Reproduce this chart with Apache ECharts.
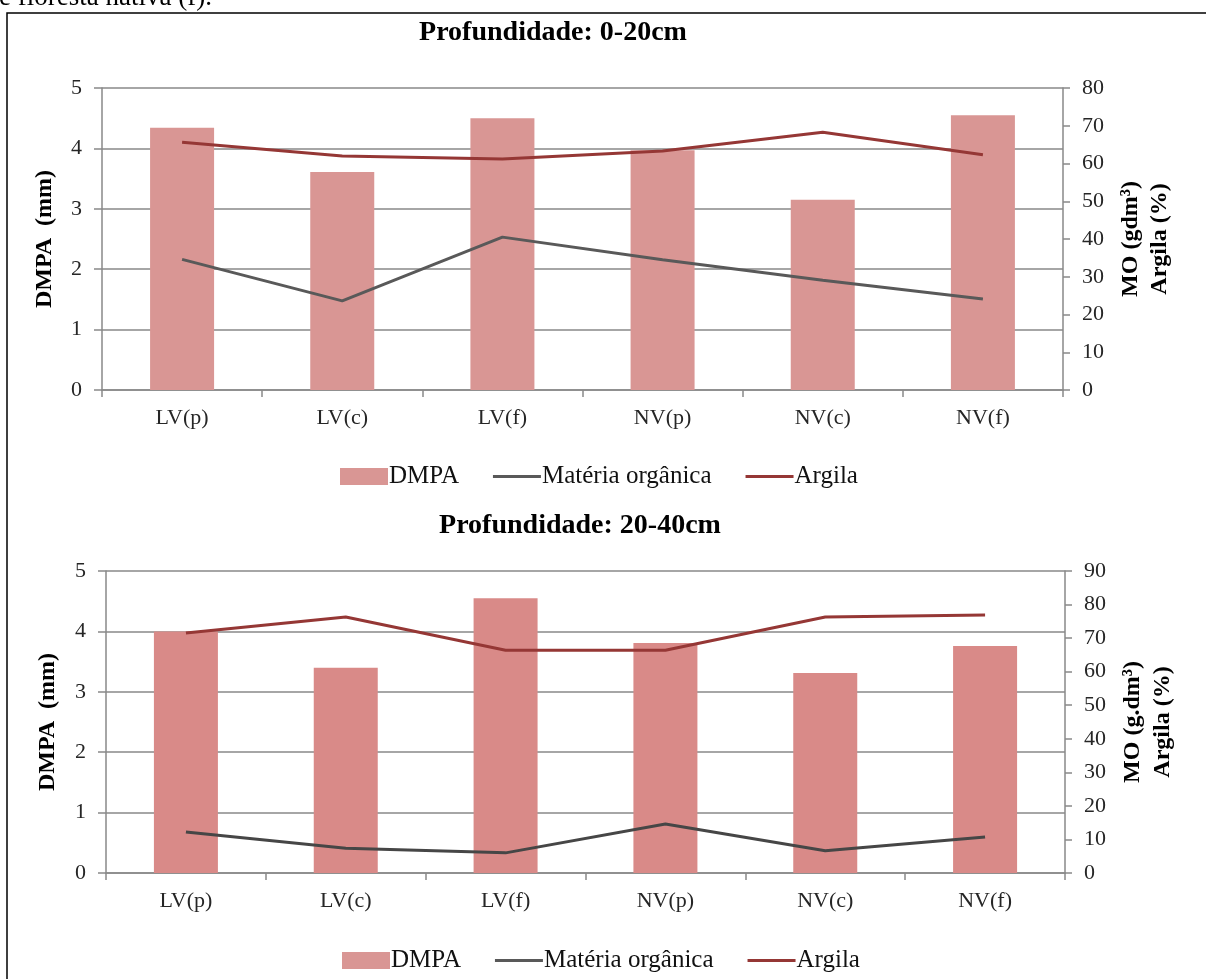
<!DOCTYPE html>
<html>
<head>
<meta charset="utf-8">
<style>
  html, body { margin: 0; padding: 0; background: #fff; }
  #chart { width: 1206px; height: 979px; }
</style>
<script src="https://cdn.jsdelivr.net/npm/echarts@6/dist/echarts.min.js"></script>
</head>
<body>
<div id="chart"></div>
<script>
// Soil classes and sampling sites
const categories = ['LV(p)', 'LV(c)', 'LV(f)', 'NV(p)', 'NV(c)', 'NV(f)'];

// Depth 0-20 cm
const dmpa0_20 = [4.34, 3.61, 4.50, 3.97, 3.15, 4.55];
const mo0_20 = [34.6, 23.6, 40.5, 34.5, 29.1, 24.1];
const argila0_20 = [65.6, 62.0, 61.2, 63.3, 68.3, 62.3];

// Depth 20-40 cm
const dmpa20_40 = [4.0, 3.4, 4.55, 3.81, 3.31, 3.76];
const mo20_40 = [12.2, 7.4, 6.0, 14.6, 6.6, 10.7];
const argila20_40 = [71.5, 76.3, 66.4, 66.4, 76.3, 76.9];

const SERIF = '"Liberation Serif", "Times New Roman", serif';
const AXIS_GRAY = '#898989';
const LABEL = '#262626';
// thin horizontal bar used as the legend key of the line series
const LINE_KEY = 'path://M0,0 L50,0 L50,3.2 L0,3.2 Z';

const chart = echarts.init(document.getElementById('chart'), null, { renderer: 'canvas' });

function xAxisFor(gridIndex) {
  return {
    type: 'category', gridIndex, data: categories,
    axisLine: { lineStyle: { color: AXIS_GRAY, width: 1.5 } },
    axisTick: { show: true, alignWithLabel: false, length: 7, lineStyle: { color: AXIS_GRAY, width: 1.5 } },
    axisLabel: { fontFamily: SERIF, fontSize: 22, color: LABEL, margin: 17 }
  };
}
function leftAxisFor(gridIndex) {
  return {
    type: 'value', gridIndex, min: 0, max: 5, interval: 1, position: 'left',
    axisLine: { show: true, lineStyle: { color: AXIS_GRAY, width: 1.5 } },
    axisTick: { show: true, length: 8, lineStyle: { color: AXIS_GRAY, width: 1.5 } },
    splitLine: { show: true, lineStyle: { color: AXIS_GRAY, width: 1.5 } },
    axisLabel: { fontFamily: SERIF, fontSize: 22, color: LABEL, margin: 20 }
  };
}
function rightAxisFor(gridIndex, max) {
  return {
    type: 'value', gridIndex, min: 0, max, interval: 10, position: 'right',
    axisLine: { show: true, lineStyle: { color: AXIS_GRAY, width: 1.5 } },
    axisTick: { show: true, length: 7, lineStyle: { color: AXIS_GRAY, width: 1.5 } },
    splitLine: { show: false },
    axisLabel: { fontFamily: SERIF, fontSize: 22, color: LABEL, margin: 19 }
  };
}
function seriesFor(idx, dmpa, mo, argila, barColor, moColor) {
  return [
    { name: 'DMPA', type: 'bar', xAxisIndex: idx, yAxisIndex: idx * 2, data: dmpa,
      barWidth: 64, itemStyle: { color: barColor }, z: 2 },
    { name: 'Matéria orgânica', type: 'line', xAxisIndex: idx, yAxisIndex: idx * 2 + 1, data: mo,
      symbol: 'none', lineStyle: { color: moColor, width: 3 }, itemStyle: { color: moColor }, z: 3 },
    { name: 'Argila', type: 'line', xAxisIndex: idx, yAxisIndex: idx * 2 + 1, data: argila,
      symbol: 'none', lineStyle: { color: '#953735', width: 3 }, itemStyle: { color: '#953735' }, z: 3 }
  ];
}
function legendFor(top, left) {
  return {
    top, left, itemWidth: 48, itemHeight: 17, itemGap: 34,
    textStyle: { fontFamily: SERIF, fontSize: 25, color: '#111', padding: [0, 0, 0, -4] },
    data: [
      { name: 'DMPA', icon: 'rect' },
      { name: 'Matéria orgânica', icon: LINE_KEY, symbolKeepAspect: true },
      { name: 'Argila', icon: LINE_KEY, symbolKeepAspect: true }
    ],
    selectedMode: false
  };
}
function vText(x, y, text) {
  return {
    type: 'text', x, y, rotation: Math.PI / 2,
    style: { text, fill: '#000', font: 'bold 24px ' + SERIF, align: 'center', verticalAlign: 'middle' }
  };
}
function hText(x, y, text, font) {
  return {
    type: 'text', x, y,
    style: { text, fill: '#000', font, align: 'center', verticalAlign: 'middle' }
  };
}

chart.setOption({
  animation: false,
  backgroundColor: '#fff',
  grid: [
    { left: 102, right: 143, top: 88, height: 302 },
    { left: 106, right: 141, top: 571, height: 302 }
  ],
  xAxis: [xAxisFor(0), xAxisFor(1)],
  yAxis: [leftAxisFor(0), rightAxisFor(0, 80), leftAxisFor(1), rightAxisFor(1, 90)],
  legend: [legendFor(459, 335), legendFor(943, 337)],
  series: [
    ...seriesFor(0, dmpa0_20, mo0_20, argila0_20, '#d99694', '#595959'),
    ...seriesFor(1, dmpa20_40, mo20_40, argila20_40, '#d98a88', '#464646')
  ],
  graphic: [
    { type: 'rect', shape: { x: 7, y: 13, width: 1215, height: 990 },
      style: { fill: null, stroke: '#000', lineWidth: 1.5 }, silent: true },
    { type: 'text', x: -1, y: 11,
      style: { text: 'e floresta nativa (f).', fill: '#000', font: '27px ' + SERIF, align: 'left', verticalAlign: 'bottom' } },
    hText(553, 33, 'Profundidade: 0-20cm', 'bold 28px ' + SERIF),
    hText(580, 526, 'Profundidade: 20-40cm', 'bold 28px ' + SERIF),
    vText(45, 239, 'DMPA  (mm)'),
    vText(48, 722, 'DMPA  (mm)'),
    vText(1131, 239, 'MO (gdm³)'),
    vText(1160, 239, 'Argila (%)'),
    vText(1133, 722, 'MO (g.dm³)'),
    vText(1163, 722, 'Argila (%)')
  ]
});
</script>
</body>
</html>
